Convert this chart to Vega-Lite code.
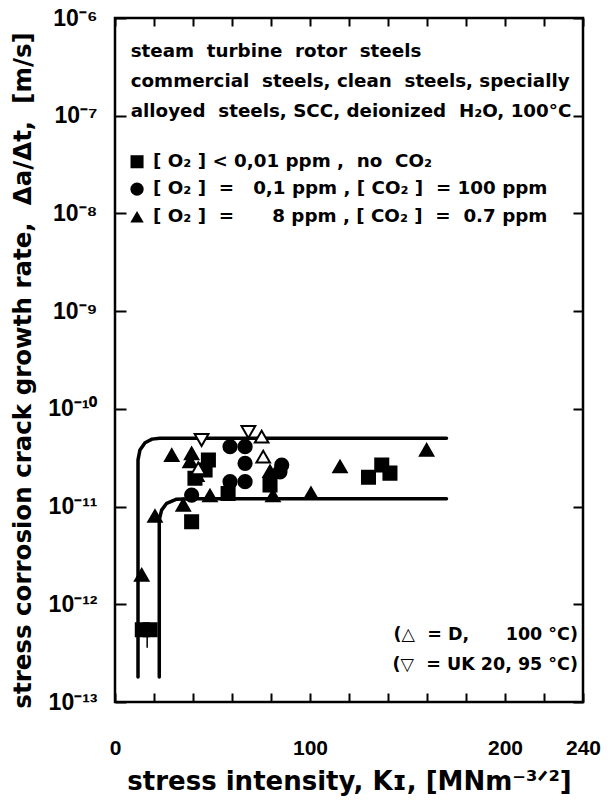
{
  "$schema": "https://vega.github.io/schema/vega-lite/v6.json",
  "width": 468,
  "height": 684,
  "autosize": {"type": "none"},
  "padding": {"left": 115, "top": 18, "right": 25, "bottom": 106},
  "background": "white",
  "config": {
    "view": {"stroke": "black", "strokeWidth": 2.5},
    "font": "DejaVu Sans",
    "axis": {
      "domain": false,
      "grid": false,
      "tickColor": "black",
      "tickWidth": 2,
      "labelColor": "black",
      "labelFont": "Liberation Sans",
      "labelFontWeight": "bold",
      "titleColor": "black",
      "titleFont": "DejaVu Sans",
      "titleFontWeight": "bold"
    }
  },
  "datasets": {
    "curves": [
      {"curve": "upper", "seq": 1, "K": 11.8, "rate": 1.8e-13},
      {"curve": "upper", "seq": 2, "K": 11.8, "rate": 3.0e-11},
      {"curve": "upper", "seq": 3, "K": 12.8, "rate": 3.8e-11},
      {"curve": "upper", "seq": 4, "K": 15.4, "rate": 4.5e-11},
      {"curve": "upper", "seq": 5, "K": 19.0, "rate": 4.9e-11},
      {"curve": "upper", "seq": 6, "K": 23.0, "rate": 5.0e-11},
      {"curve": "upper", "seq": 7, "K": 170.0, "rate": 5.0e-11},
      {"curve": "lower", "seq": 1, "K": 22.7, "rate": 1.8e-13},
      {"curve": "lower", "seq": 2, "K": 22.7, "rate": 7.3e-12},
      {"curve": "lower", "seq": 3, "K": 23.9, "rate": 9.2e-12},
      {"curve": "lower", "seq": 4, "K": 26.5, "rate": 1.08e-11},
      {"curve": "lower", "seq": 5, "K": 31.6, "rate": 1.19e-11},
      {"curve": "lower", "seq": 6, "K": 38.5, "rate": 1.2e-11},
      {"curve": "lower", "seq": 7, "K": 170.0, "rate": 1.2e-11}
    ],
    "points": [
      {"group": "square", "K": 14.0, "rate": 5.5e-13},
      {"group": "square", "K": 18.0, "rate": 5.5e-13},
      {"group": "square", "K": 39.3, "rate": 7.0e-12},
      {"group": "square", "K": 41.0, "rate": 1.95e-11},
      {"group": "square", "K": 46.2, "rate": 2.37e-11},
      {"group": "square", "K": 47.9, "rate": 3.0e-11},
      {"group": "square", "K": 58.0, "rate": 1.36e-11},
      {"group": "square", "K": 79.5, "rate": 1.66e-11},
      {"group": "square", "K": 130.0, "rate": 2.0e-11},
      {"group": "square", "K": 136.8, "rate": 2.66e-11},
      {"group": "square", "K": 141.0, "rate": 2.2e-11},
      {"group": "circle", "K": 39.3, "rate": 1.31e-11},
      {"group": "circle", "K": 59.0, "rate": 4.1e-11},
      {"group": "circle", "K": 66.7, "rate": 4.1e-11},
      {"group": "circle", "K": 66.7, "rate": 2.77e-11},
      {"group": "circle", "K": 59.0, "rate": 1.8e-11},
      {"group": "circle", "K": 66.7, "rate": 1.8e-11},
      {"group": "circle", "K": 85.5, "rate": 2.66e-11},
      {"group": "circle", "K": 84.6, "rate": 2.27e-11},
      {"group": "triangle", "K": 13.7, "rate": 2.0e-12},
      {"group": "triangle", "K": 20.5, "rate": 8.0e-12},
      {"group": "triangle", "K": 29.1, "rate": 3.36e-11},
      {"group": "triangle", "K": 39.3, "rate": 3.5e-11},
      {"group": "triangle", "K": 38.5, "rate": 2.9e-11},
      {"group": "triangle", "K": 42.0, "rate": 2.1e-11},
      {"group": "triangle", "K": 35.0, "rate": 1.04e-11},
      {"group": "triangle", "K": 48.7, "rate": 1.3e-11},
      {"group": "triangle", "K": 79.5, "rate": 2.3e-11},
      {"group": "triangle", "K": 81.0, "rate": 1.3e-11},
      {"group": "triangle", "K": 100.5, "rate": 1.37e-11},
      {"group": "triangle", "K": 115.4, "rate": 2.57e-11},
      {"group": "triangle", "K": 159.8, "rate": 3.8e-11},
      {"group": "D", "K": 42.7, "rate": 2.46e-11},
      {"group": "D", "K": 75.2, "rate": 5.2e-11},
      {"group": "D", "K": 76.0, "rate": 3.24e-11},
      {"group": "UK", "K": 44.4, "rate": 4.8e-11},
      {"group": "UK", "K": 68.4, "rate": 5.8e-11}
    ],
    "keys": [
      {"group": "square", "K": 11.3, "rate": 3.38e-8},
      {"group": "circle", "K": 11.3, "rate": 1.77e-8},
      {"group": "triangle", "K": 11.3, "rate": 9.25e-9}
    ],
    "notes": [
      {"K": 8.05, "rate": 4.52e-7, "label": "steam\u00a0\u00a0turbine\u00a0\u00a0rotor\u00a0\u00a0steels"},
      {"K": 8.05, "rate": 2.23e-7, "label": "commercial\u00a0\u00a0steels,\u00a0clean\u00a0\u00a0steels,\u00a0specially"},
      {"K": 8.05, "rate": 1.10e-7, "label": "alloyed\u00a0\u00a0steels,\u00a0SCC,\u00a0deionized\u00a0\u00a0H₂O,\u00a0100°C"},
      {"K": 19.5, "rate": 3.38e-8, "label": "[\u00a0O₂\u00a0]\u00a0<\u00a00,01\u00a0ppm\u00a0,\u00a0\u00a0no\u00a0\u00a0CO₂"},
      {"K": 19.5, "rate": 1.77e-8, "label": "[\u00a0O₂\u00a0]\u00a0\u00a0=\u00a0\u00a0\u00a00,1\u00a0ppm\u00a0,\u00a0[\u00a0CO₂\u00a0]\u00a0\u00a0=\u00a0100\u00a0ppm"},
      {"K": 19.5, "rate": 9.25e-9, "label": "[\u00a0O₂\u00a0]\u00a0\u00a0=\u00a0\u00a0\u00a0\u00a0\u00a0\u00a08\u00a0ppm\u00a0,\u00a0[\u00a0CO₂\u00a0]\u00a0\u00a0=\u00a0\u00a00.7\u00a0ppm"}
    ],
    "sources": [
      {"K": 237.4, "rate": 4.84e-13, "label": "(△\u00a0\u00a0=\u00a0D,\u00a0\u00a0\u00a0\u00a0\u00a0\u00a0100\u00a0°C)"},
      {"K": 237.4, "rate": 2.39e-13, "label": "(▽\u00a0\u00a0=\u00a0UK\u00a020,\u00a095\u00a0°C)"}
    ],
    "arrows": [
      {"K": 16.5, "top": 4.7e-13, "bottom": 3.6e-13}
    ]
  },
  "resolve": {"axis": {"x": "independent", "y": "independent"}},
  "layer": [
    {
      "data": {"name": "curves"},
      "mark": {"type": "line", "color": "black", "strokeWidth": 3.5, "interpolate": "linear", "strokeCap": "round", "strokeJoin": "round"},
      "encoding": {
        "x": {
          "field": "K", "type": "quantitative",
          "scale": {"domain": [0, 240], "nice": false, "zero": false},
          "axis": {
            "orient": "bottom",
            "values": [0, 20, 40, 60, 80, 100, 120, 140, 160, 180, 200, 220, 240],
            "offset": -9,
            "tickSize": 9,
            "labelPadding": 35,
            "labelFontSize": 21,
            "labelExpr": "datum.value == 0 || datum.value == 100 || datum.value == 200 || datum.value == 240 ? datum.label : ''",
            "labelFlush": false,
            "labelOverlap": false,
            "title": "stress intensity, Kɪ, [MNm⁻³ᐟ²]",
            "titleFontSize": 26,
            "titlePadding": 10
          }
        },
        "y": {
          "field": "rate", "type": "quantitative",
          "scale": {"type": "log", "domain": [1e-13, 1e-6], "nice": false},
          "axis": {
            "orient": "left",
            "values": [1e-13, 1e-12, 1e-11, 1e-10, 1e-9, 1e-8, 1e-7, 1e-6],
            "offset": -11,
            "tickSize": 11,
            "labelPadding": 18,
            "labelFontSize": 23,
            "labelExpr": "datum.value > 5e-7 ? '10⁻⁶' : datum.value > 5e-8 ? '10⁻⁷' : datum.value > 5e-9 ? '10⁻⁸' : datum.value > 5e-10 ? '10⁻⁹' : datum.value > 5e-11 ? '10⁻¹⁰' : datum.value > 5e-12 ? '10⁻¹¹' : datum.value > 5e-13 ? '10⁻¹²' : '10⁻¹³'",
            "labelFlush": false,
            "labelOverlap": false,
            "title": "stress corrosion crack growth rate,\u00a0\u00a0Δa/Δt,\u00a0\u00a0[m/s]",
            "titleFontSize": 24.5,
            "titleX": -91,
            "titleY": 352
          }
        },
        "detail": {"field": "curve"},
        "order": {"field": "seq"}
      }
    },
    {
      "data": {"name": "points"},
      "mark": {"type": "point", "stroke": "black", "strokeWidth": 2, "opacity": 1},
      "encoding": {
        "x": {
          "field": "K", "type": "quantitative",
          "axis": {
            "orient": "top",
            "values": [0, 20, 40, 60, 80, 100, 120, 140, 160, 180, 200, 220, 240],
            "offset": -8,
            "tickSize": 8,
            "labels": false,
            "title": null
          }
        },
        "y": {
          "field": "rate", "type": "quantitative",
          "axis": {
            "orient": "right",
            "values": [1e-13, 1e-12, 1e-11, 1e-10, 1e-9, 1e-8, 1e-7, 1e-6],
            "offset": -10,
            "tickSize": 10,
            "labels": false,
            "title": null
          }
        },
        "shape": {
          "field": "group", "type": "nominal",
          "scale": {"domain": ["square", "circle", "triangle", "D", "UK"], "range": ["square", "circle", "triangle-up", "triangle-up", "triangle-down"]},
          "legend": null
        },
        "fill": {
          "field": "group", "type": "nominal",
          "scale": {"domain": ["square", "circle", "triangle", "D", "UK"], "range": ["black", "black", "black", "white", "white"]},
          "legend": null
        },
        "size": {
          "field": "group", "type": "nominal",
          "scale": {"domain": ["square", "circle", "triangle", "D", "UK"], "range": [170, 190, 230, 210, 210]},
          "legend": null
        }
      }
    },
    {
      "data": {"name": "keys"},
      "mark": {"type": "point", "filled": true, "color": "black", "opacity": 1},
      "encoding": {
        "x": {"field": "K", "type": "quantitative", "axis": null},
        "y": {"field": "rate", "type": "quantitative", "axis": null},
        "shape": {
          "field": "group", "type": "nominal",
          "scale": {"domain": ["square", "circle", "triangle", "D", "UK"], "range": ["square", "circle", "triangle-up", "triangle-up", "triangle-down"]},
          "legend": null
        },
        "size": {
          "field": "group", "type": "nominal",
          "scale": {"domain": ["square", "circle", "triangle", "D", "UK"], "range": [130, 180, 260, 210, 210]},
          "legend": null
        }
      }
    },
    {
      "data": {"name": "notes"},
      "mark": {"type": "text", "align": "left", "baseline": "middle", "font": "DejaVu Sans", "fontWeight": "bold", "fontSize": 18.3, "color": "black"},
      "encoding": {
        "x": {"field": "K", "type": "quantitative", "axis": null},
        "y": {"field": "rate", "type": "quantitative", "axis": null},
        "text": {"field": "label"}
      }
    },
    {
      "data": {"name": "sources"},
      "mark": {"type": "text", "align": "right", "baseline": "middle", "font": "DejaVu Sans", "fontWeight": "bold", "fontSize": 17.5, "color": "black"},
      "encoding": {
        "x": {"field": "K", "type": "quantitative", "axis": null},
        "y": {"field": "rate", "type": "quantitative", "axis": null},
        "text": {"field": "label"}
      }
    },
    {
      "data": {"name": "arrows"},
      "mark": {"type": "rule", "color": "black", "strokeWidth": 1.5},
      "encoding": {
        "x": {"field": "K", "type": "quantitative", "axis": null},
        "y": {"field": "top", "type": "quantitative", "axis": null},
        "y2": {"field": "bottom"}
      }
    }
  ]
}
